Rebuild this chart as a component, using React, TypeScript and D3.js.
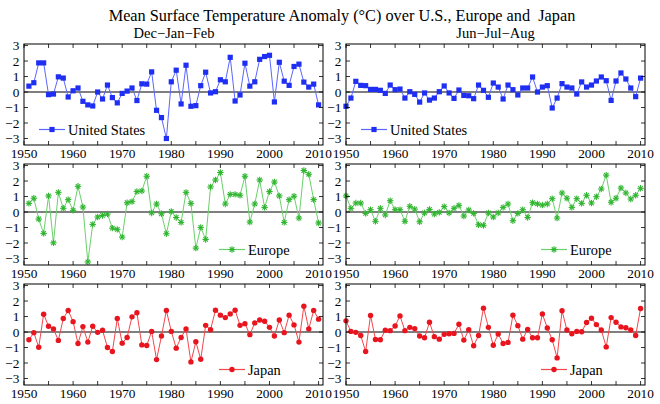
import React from "react";
import * as d3 from "d3";

const TITLE = "Mean Surface Temperature Anomaly (\u00B0C) over U.S., Europe and  Japan";
const SEASONS = ["Dec\u2212Jan\u2212Feb", "Jun\u2212Jul\u2212Aug"];
const DJF_START = 1951;
const JJA_START = 1950;
const X_TICK_LABELS = [1950, 1960, 1970, 1980, 1990, 2000, 2010];
const X_TICKS_MINOR = [1950, 1955, 1960, 1965, 1970, 1975, 1980, 1985, 1990, 1995, 2000, 2005, 2010];
const Y_TICKS = [3, 2, 1, 0, -1, -2, -3];

const usDJF = [
  0.38, 0.6, 1.88, 1.88, -0.17, -0.13, 0.98, 0.9, -0.32, 0.08,
  0.26, -0.6, -0.83, -0.9, 0.0, -0.45, 0.45, -0.36, -0.7, -0.09,
  0.06, 0.26, -0.55, 0.53, 0.51, 1.3, -1.18, -1.65, -3.0, 0.66,
  1.41, -0.77, 1.73, -0.92, -0.88, 0.41, 1.28, -0.06, 0.02, 0.79,
  0.66, 2.24, -0.58, -0.19, 1.86, 0.38, 0.66, 2.11, 2.29, 2.37,
  -0.64, 1.92, 0.7, 0.43, 1.65, 1.8, 0.64, 0.32, 0.51, -0.83,
];
const usJJA = [
  -0.92, -0.39, 0.69, 0.43, 0.41, 0.17, 0.17, 0.11, -0.09, 0.45,
  0.15, 0.19, -0.39, 0.02, -0.15, -0.65, -0.06, -0.52, -0.39, 0.02,
  0.39, -0.06, -0.41, 0.13, -0.22, -0.24, -0.43, 0.45, 0.11, -0.34,
  0.58, 0.32, -0.45, 0.45, 0.15, -0.19, 0.26, 0.26, 0.97, 0.0,
  0.32, 0.41, -1.03, -0.39, 0.54, 0.32, 0.26, -0.13, 0.65, 0.32,
  0.45, 0.71, 0.97, 0.73, -0.54, 0.71, 1.23, 0.84, 0.26, -0.3,
  0.9,
];
const euDJF = [
  0.56, 0.89, -0.45, -1.38, 1.04, -1.99, 1.27, 0.24, 0.8, 0.11,
  1.66, 0.32, -3.22, -0.8, -0.32, -0.22, -0.13, -1.04, -1.12, -1.62,
  0.6, 0.67, 1.32, 1.36, 2.31, -0.06, 0.52, -0.11, -1.4, 0.04,
  -0.35, -0.67, 1.27, 0.56, -2.33, -0.99, -1.77, 1.62, 2.07, 2.55,
  0.52, 1.14, 1.14, 1.08, 2.31, -0.65, 0.52, 2.07, 0.3, 1.32,
  1.94, 1.04, -0.67, 0.8, 1.02, -0.39, 2.68, 2.44, 0.8, -0.71,
];
const euJJA = [
  1.04, 0.24, 0.58, 0.58, -0.09, 0.15, -0.6, 0.24, -0.19, 0.73,
  0.15, 0.15, -0.6, 0.37, 0.19, -0.63, -0.06, 0.17, -0.13, -0.02,
  0.35, -0.06, 0.24, 0.43, -0.26, 0.13, -0.09, -0.82, -0.86, -0.06,
  -0.32, -0.06, 0.3, 0.52, -0.56, -0.09, 0.15, -0.35, 0.6, 0.52,
  0.45, 0.52, 0.86, -0.39, 1.23, 0.89, 0.3, 0.86, 0.56, 1.08,
  0.58, 0.99, 1.49, 2.38, 0.63, 0.89, 1.55, 1.23, 0.84, 1.08,
  1.53,
];
const jpDJF = [
  -0.5, -0.04, -0.98, 1.15, 0.37, 0.2, -0.54, 0.87, 1.39, 0.67,
  -0.74, 0.35, -0.65, 0.37, -0.02, 0.11, -1.0, -1.26, 0.87, -0.72,
  -0.35, 0.98, 1.24, -0.83, -0.87, 0.04, -1.78, -0.26, 1.39, 0.04,
  -1.04, -0.35, 0.2, -1.93, -0.63, -1.76, 0.43, 0.15, 1.41, 1.09,
  0.93, 1.17, 1.41, 0.43, 0.54, -0.17, 0.59, 0.78, 0.7, 0.3,
  -0.26, 0.78, -0.04, 1.09, 0.46, -0.65, 1.67, 0.2, 1.39, 0.83,
];
const jpJJA = [
  0.72, 0.04, -0.02, -0.22, -1.26, 1.07, -0.48, -0.5, 0.11, 0.09,
  0.39, 1.04, 0.09, 0.3, 0.22, -0.26, -0.37, 0.63, -0.3, -0.46,
  -0.15, -0.11, -0.09, 0.5, -0.52, 0.15, -0.89, -0.22, 1.54, 0.3,
  -0.85, -0.13, -0.74, -0.67, 1.09, 0.41, -0.46, 0.17, -0.37, -0.37,
  1.17, 0.26, -0.5, -1.67, 1.37, 0.13, -0.11, 0.04, 0.02, 0.61,
  0.89, 0.48, 0.13, -0.96, 0.93, 0.63, 0.33, 0.28, 0.13, -0.22,
  1.52,
];

const REGIONS = ["United States", "Europe", "Japan"];
const MARKERS = ["square", "star", "circle"];
const MARKER_COLORS = ["#1e2ef2", "#2fb52f", "#e8151e"];
const LINE_COLORS = ["#5a66ff", "#6bd06b", "#f2474c"];
const SERIES = [
  [usDJF, usJJA],
  [euDJF, euJJA],
  [jpDJF, jpJJA],
];

const FONT = "'Liberation Serif', 'DejaVu Serif', serif";
const COL_X = [24, 346];
const ROW_Y = [44, 164, 284];
const PW = 299;
const PH = 101;

function Marker({ kind, x, y, color }: { kind: string; x: number; y: number; color: string }) {
  if (kind === "square") return <rect x={x - 2.6} y={y - 2.6} width={5.2} height={5.2} fill={color} />;
  if (kind === "circle") return <circle cx={x} cy={y} r={2.7} fill={color} />;
  const r = 3.2;
  const d = r * 0.707;
  return (
    <g stroke={color} strokeWidth={1.1}>
      <line x1={x - r} y1={y} x2={x + r} y2={y} />
      <line x1={x} y1={y - r} x2={x} y2={y + r} />
      <line x1={x - d} y1={y - d} x2={x + d} y2={y + d} />
      <line x1={x - d} y1={y + d} x2={x + d} y2={y - d} />
    </g>
  );
}

function Panel({ row, col }: { row: number; col: number }) {
  const x0 = COL_X[col];
  const y0 = ROW_Y[row];
  const values = SERIES[row][col];
  const start = col === 0 ? DJF_START : JJA_START;
  const years = d3.range(start, start + values.length);
  const xs = d3.scaleLinear().domain([1950, 2010.9]).range([x0, x0 + PW]);
  const ys = d3.scaleLinear().domain([-3.42, 3.1]).range([y0 + PH, y0]);
  const pts = years.map((yr, i) => [xs(yr), ys(values[i])] as [number, number]);
  const line = d3.line()(pts) || "";
  const mc = MARKER_COLORS[row];
  const lc = LINE_COLORS[row];
  const legendY = y0 + PH - 15.5;
  const lx = row === 0 ? x0 + 15 : x0 + 195;
  const tl = 4;
  return (
    <g>
      <line x1={x0} x2={x0 + PW} y1={ys(0)} y2={ys(0)} stroke="#000" strokeWidth={1.2} />
      <path d={line} fill="none" stroke={lc} strokeWidth={1} />
      {pts.map((p, i) => (
        <Marker key={i} kind={MARKERS[row]} x={p[0]} y={p[1]} color={mc} />
      ))}
      {/* frame */}
      <rect x={x0} y={y0} width={PW} height={PH} fill="none" stroke="#000" strokeWidth={1} />
      {X_TICKS_MINOR.map((t) => (
        <g key={"xt" + t} stroke="#000" strokeWidth={0.8}>
          <line x1={xs(t)} x2={xs(t)} y1={y0 + PH} y2={y0 + PH - tl} />
          <line x1={xs(t)} x2={xs(t)} y1={y0} y2={y0 + tl} />
        </g>
      ))}
      {Y_TICKS.map((t) => (
        <g key={"yt" + t} stroke="#000" strokeWidth={0.8}>
          <line x1={x0} x2={x0 + tl} y1={ys(t)} y2={ys(t)} />
          <line x1={x0 + PW} x2={x0 + PW - tl} y1={ys(t)} y2={ys(t)} />
        </g>
      ))}
      {Y_TICKS.map((t) => (
        <text
          key={"yl" + t}
          x={x0 - 4.5}
          y={ys(t)}
          dy="0.35em"
          textAnchor="end"
          fontFamily={FONT}
          fontSize={13.3}
          fill="#000"
        >
          {t < 0 ? "\u2212" + Math.abs(t) : String(t)}
        </text>
      ))}
      {X_TICK_LABELS.map((t) => (
        <text
          key={"xl" + t}
          x={xs(t)}
          y={y0 + PH + 12.5}
          textAnchor="middle"
          fontFamily={FONT}
          fontSize={13.3}
          fill="#000"
        >
          {t}
        </text>
      ))}
      {/* legend */}
      <line x1={lx} x2={lx + 26} y1={legendY} y2={legendY} stroke={lc} strokeWidth={1.2} />
      <Marker kind={MARKERS[row]} x={lx + 13} y={legendY} color={mc} />
      <text x={lx + 29} y={legendY} dy="0.35em" fontFamily={FONT} fontSize={14.4} fill="#000">
        {REGIONS[row]}
      </text>
    </g>
  );
}

export default function App() {
  return (
    <svg
      width={660}
      height={404}
      style={{ position: "absolute", left: 0, top: 0, background: "#fff" }}
    >
      <rect width={660} height={404} fill="#fff" />
      <text
        x={342}
        y={21}
        textAnchor="middle"
        fontFamily={FONT}
        fontSize={16.3}
        fill="#000"
        style={{ whiteSpace: "pre" }}
      >
        {TITLE}
      </text>
      <text x={174} y={37.5} textAnchor="middle" fontFamily={FONT} fontSize={14.5} fill="#000">
        {SEASONS[0]}
      </text>
      <text x={495.5} y={37.5} textAnchor="middle" fontFamily={FONT} fontSize={14.5} fill="#000">
        {SEASONS[1]}
      </text>
      {[0, 1, 2].map((r) =>
        [0, 1].map((c) => <Panel key={r + "-" + c} row={r} col={c} />)
      )}
    </svg>
  );
}
